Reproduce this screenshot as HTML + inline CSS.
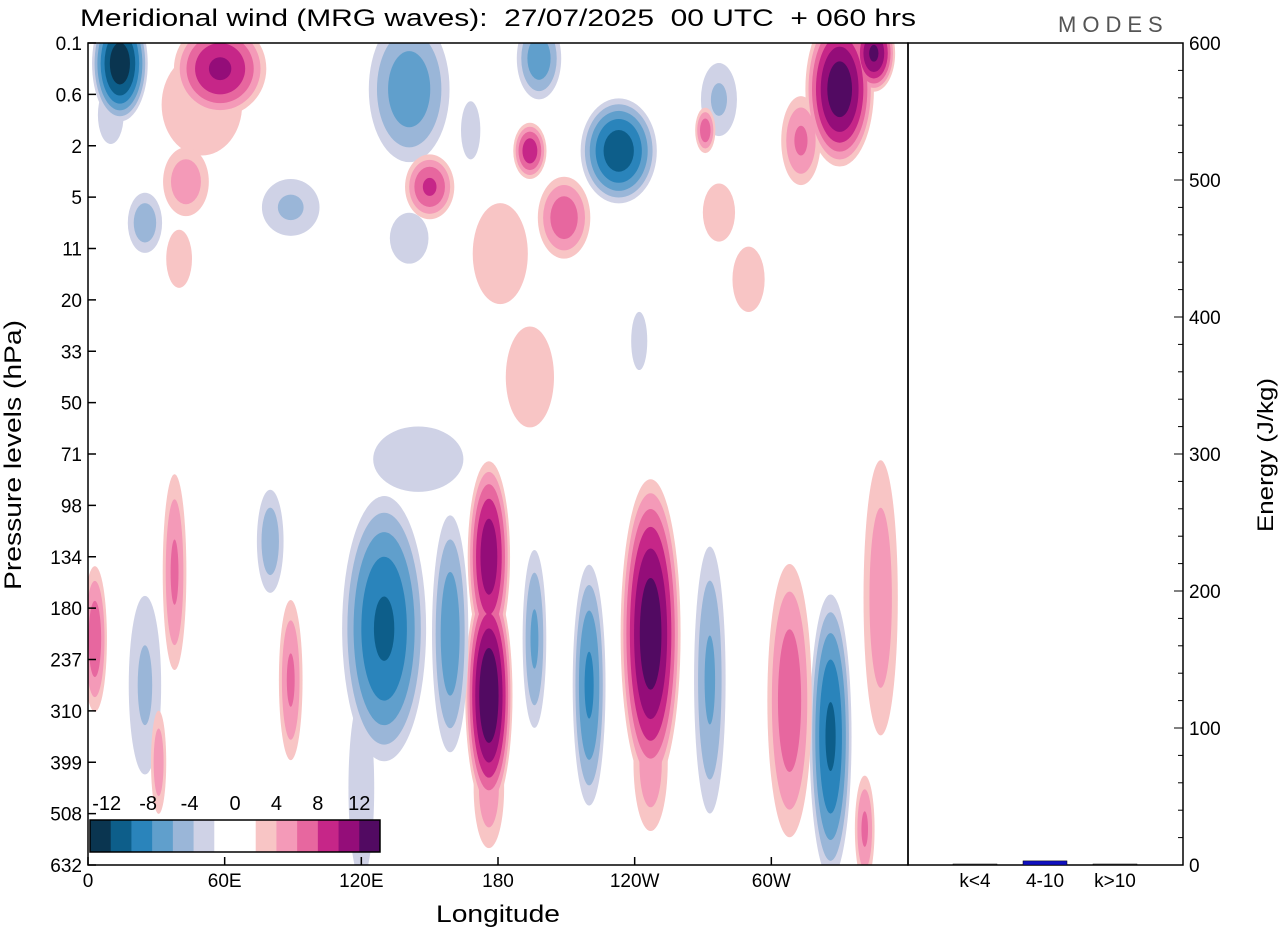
<!DOCTYPE html>
<html><head><meta charset="utf-8">
<style>
body{margin:0;background:#fff;font-family:"Liberation Sans",sans-serif;}
svg text{font-family:"Liberation Sans",sans-serif;fill:#000;}
</style></head>
<body>
<svg id="chart" width="1280" height="930" viewBox="0 0 1280 930">
<defs><clipPath id="plotclip"><rect x="88" y="43" width="820" height="822"/></clipPath></defs>
<text x="80" y="26" font-size="24" textLength="836" lengthAdjust="spacingAndGlyphs" xml:space="preserve">Meridional wind (MRG waves):  27/07/2025  00 UTC  + 060 hrs</text>
<text x="1058" y="32" font-size="22" letter-spacing="6" style="fill:#555">MODES</text>
<g id="field" clip-path="url(#plotclip)"></g>
<rect x="88" y="43" width="820" height="822" fill="none" stroke="#000" stroke-width="1.5"/>
<rect x="908" y="43" width="275" height="822" fill="none" stroke="#000" stroke-width="1.5"/>
<g id="axes"></g>
<g id="cbar"></g>
<text x="436" y="922" font-size="24" textLength="124" lengthAdjust="spacingAndGlyphs">Longitude</text>
<text transform="translate(21,590) rotate(-90)" font-size="24" textLength="270" lengthAdjust="spacingAndGlyphs">Pressure levels (hPa)</text>
<text transform="translate(1273,532) rotate(-90)" font-size="22" textLength="154" lengthAdjust="spacingAndGlyphs">Energy (J/kg)</text>
</svg>
<script>
const levelLabels=["0.1","0.6","2","5","11","20","33","50","71","98","134","180","237","310","399","508","632"];
const lonTicks=[0,60,120,180,240,300];
const lonTickLabels=["0","60E","120E","180","120W","60W"];
const energyTicks=[0,100,200,300,400,500,600];
const bandLabels=["k<4","4-10","k>10"];
const bandEnergy=[0.5,3,0.4];
const cbarLabels=["-12","-8","-4","0","4","8","12"];
// blobs: lon(deg), level index, half-width lon (deg), half-height (levels), amplitude (m/s)
const blobLon=[176,176,176,247,247,130,159,196,220,273,326,308,348,341,80,38,3,89,25,31,145,194,14,58,50,141,198,233,194,150,209,181,330,345,313,277,271,43,25,89,141,40,277,290,242,168,10,120];
const blobLev=[10,12.7,14.5,11.5,14,11.4,11.5,11.6,12.5,12.4,13.5,12.8,10.8,15.3,9.7,10.3,11.6,12.4,12.5,14,8.1,6.5,0.4,0.5,1.2,0.9,0.3,2.1,2.1,2.8,3.4,4.1,0.9,0.2,1.9,1.1,1.7,2.7,3.5,3.2,3.8,4.2,3.3,4.6,5.8,1.7,1.4,14.5];
const blobRx=[10,11,8,14,9,20,9,6,8,8,10,11,9,5,7,6,6,6,9,4,28,14,13,22,25,20,11,18,8,12,13,16,16,10,10,10,5,12,9,16,12,8,10,10,5,6,8,8];
const blobRy=[2.0,2.4,1.4,3.2,1.6,2.8,2.6,2.0,2.6,3.0,3.0,3.0,3.2,1.2,1.2,2.2,1.6,1.8,2.2,1.2,0.9,1.3,1.2,1.0,1.4,1.6,0.9,1.1,0.6,0.7,0.9,1.3,1.6,0.8,1.0,0.9,0.5,0.8,0.7,0.7,0.7,0.8,0.8,0.9,0.8,0.8,0.8,2.5];
const blobAmp=[11,13.5,5,13,5,-10,-7,-6,-8,-6,-10,7,5,6,-5,6,7,6,-4,5,-3,3.5,-13,10,3,-7,-7,-11,9,8,7,3.5,13,12,6,-4,7,5,-5,-4,-3,3,3,3,-3,-3,-3,-3];
const negCols=["#cfd2e6","#9ab6d8","#609fcc","#2a84bb","#0d5e8a","#0a3550"];
const posCols=["#f8c5c5","#f49ab8","#e7679f","#c62688","#940d79","#520a62"];
const NS="http://www.w3.org/2000/svg";
const X0=88,X1=908,Y0=43,Y1=865;
const lonX=l=>X0+l/360*(X1-X0);
const levY=i=>Y0+i*(Y1-Y0)/16;
const eY=e=>Y1-e/600*(Y1-Y0);
const field=document.getElementById('field');
for(let k=0;k<6;k++){
  const t=2*(k+1)-0.5;
  for(let b=0;b<blobLon.length;b++){
    const a=Math.abs(blobAmp[b]);
    if(a<=t)continue;
    const s=Math.sqrt(1-t/a);
    const e=document.createElementNS(NS,'ellipse');
    
    
    e.setAttribute('cx',lonX(blobLon[b]));e.setAttribute('cy',levY(blobLev[b]));
    e.setAttribute('rx',blobRx[b]*820/360*s);e.setAttribute('ry',blobRy[b]*822/16*s);
    e.setAttribute('fill',blobAmp[b]<0?negCols[k]:posCols[k]);
    field.appendChild(e);
  }
}
const axes=document.getElementById('axes');
function mk(tag,attrs,txt){const e=document.createElementNS(NS,tag);for(const k in attrs)e.setAttribute(k,attrs[k]);if(txt!==undefined)e.textContent=txt;axes.appendChild(e);return e;}
levelLabels.forEach((l,i)=>{
  const y=levY(i);
  const ln=mk('line',{x1:X0,x2:X0+8,y1:y,y2:y,stroke:'#000','stroke-width':1.5});
  
  
  const t=mk('text',{x:X0-6,y:y+7,'font-size':19,'text-anchor':'end'},l);
  
  
});
lonTicks.forEach((l,i)=>{
  const x=lonX(l);
  const ln=mk('line',{x1:x,x2:x,y1:Y1,y2:Y1-8,stroke:'#000','stroke-width':1.5});
  
  
  const t=mk('text',{x:x,y:Y1+22,'font-size':19,'text-anchor':'middle'},lonTickLabels[i]);
  
  
});
for(let e=0;e<=600;e+=20){
  const y=eY(e);const major=e%100===0;
  const ln=mk('line',{x1:1183,x2:1183-(major?9:5),y1:y,y2:y,stroke:'#000','stroke-width':1});
  
  
}
energyTicks.forEach(e=>{
  const t=mk('text',{x:1189,y:eY(e)+7,'font-size':19},String(e));
  
  
});
bandLabels.forEach((b,i)=>{
  const x=975+i*70;
  const h=Math.max(1,Y1-eY(bandEnergy[i]));
  const r=mk('rect',{x:x-22,y:Y1-h,width:44,height:h,fill:i===1?'#1010c0':'#333',stroke:'#000','stroke-width':0.5});
  
  
  const t=mk('text',{x:x,y:Y1+22,'font-size':19,'text-anchor':'middle'},b);
  
  
});
const cb=document.getElementById('cbar');
const cbCols=negCols.slice().reverse().concat(["#ffffff","#ffffff"]).concat(posCols);
const bw=290/14;
cbCols.forEach((c,i)=>{
  const r=document.createElementNS(NS,'rect');
  
  
  r.setAttribute('x',90+i*bw);r.setAttribute('y',820);r.setAttribute('width',bw+0.5);r.setAttribute('height',32);r.setAttribute('fill',c);
  cb.appendChild(r);
});
const fr=document.createElementNS(NS,'rect');


fr.setAttribute('x',90);fr.setAttribute('y',820);fr.setAttribute('width',290);fr.setAttribute('height',32);fr.setAttribute('fill','none');fr.setAttribute('stroke','#000');fr.setAttribute('stroke-width',1.5);
cb.appendChild(fr);
cbarLabels.forEach((l,i)=>{
  const t=document.createElementNS(NS,'text');
  
  
  t.setAttribute('x',90+bw*(1+2*i)+(i<3?-4:0));t.setAttribute('y',810);t.setAttribute('font-size',20);t.setAttribute('text-anchor','middle');
  t.textContent=l;cb.appendChild(t);
});
</script>
</body></html>
